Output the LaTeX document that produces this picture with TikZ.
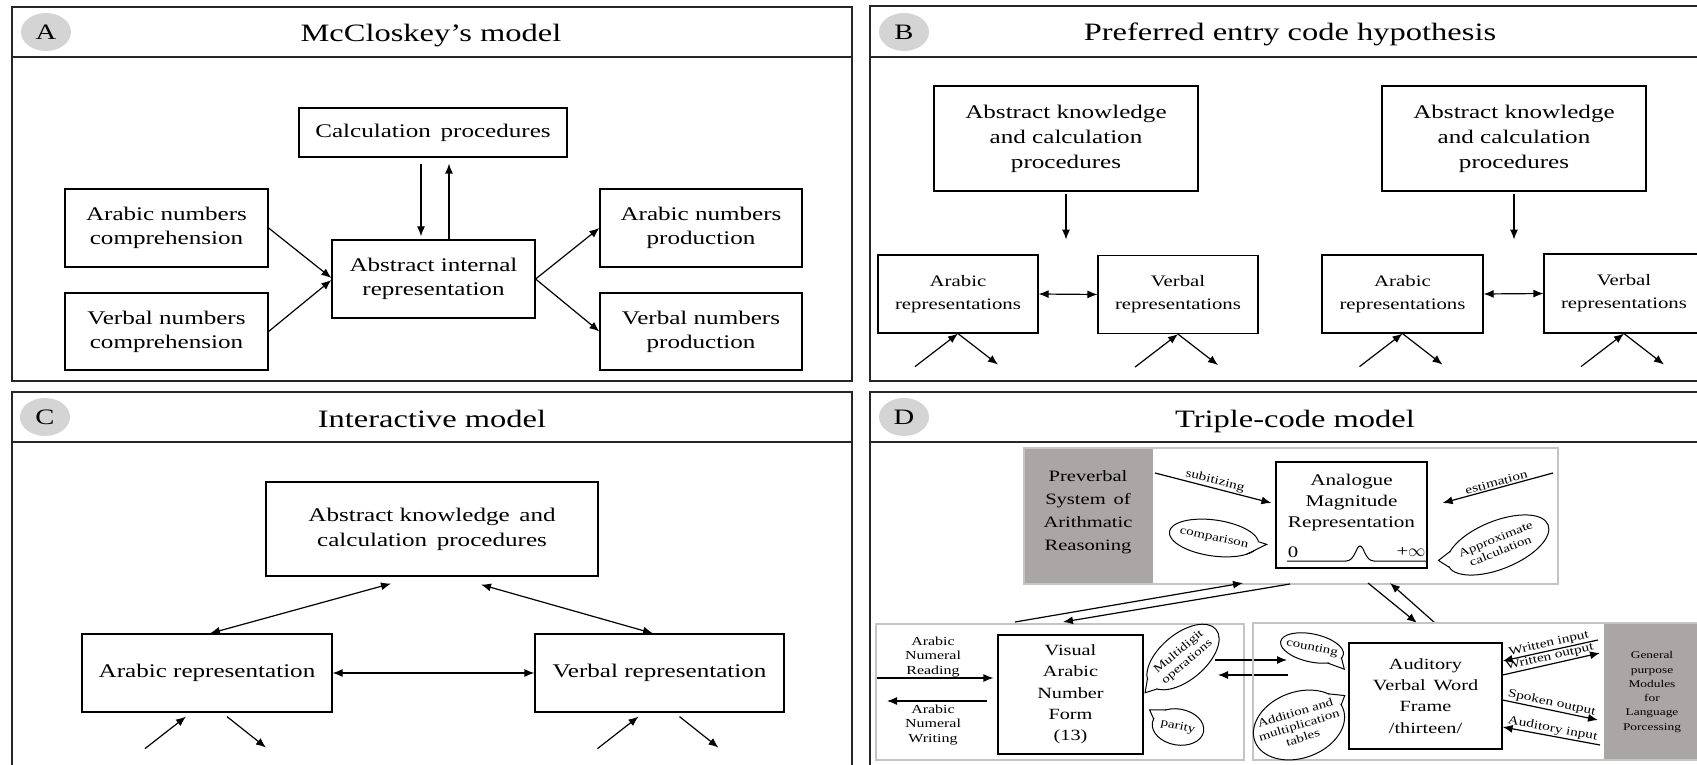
\documentclass[tikz,border=0pt]{standalone}
\usepackage{fontspec}
\setmainfont{Liberation Serif}[FakeStretch=1.3]
\usetikzlibrary{arrows.meta}
\definecolor{circgray}{RGB}{212,212,212}
\definecolor{graybox}{RGB}{170,166,165}
\definecolor{innergray}{RGB}{196,196,196}
\newcommand{\fnTitle}{\fontsize{25}{30}\selectfont}
\newcommand{\fnLetter}{\fontsize{22}{26}\selectfont}
\newcommand{\fnBox}{\fontsize{19.3}{24}\selectfont}
\newcommand{\fnBoxB}{\fontsize{19.3}{25}\selectfont}
\newcommand{\fnSmBox}{\fontsize{16}{23}\selectfont}
\newcommand{\fnMid}{\fontsize{15.8}{23}\selectfont}
\newcommand{\fnMidB}{\fontsize{16.3}{21}\selectfont}
\newcommand{\fnVis}{\fontsize{15.6}{21.3}\selectfont}
\newcommand{\fnLab}{\fontsize{11.5}{13}\selectfont}
\newcommand{\fnArr}{\fontsize{11.8}{13}\selectfont}
\newcommand{\fnLabB}{\fontsize{12.3}{14.5}\selectfont}
\newcommand{\fnGray}{\fontsize{10.3}{14.3}\selectfont}
% bubble: cx, cy, rx, ry, rot, a1, a2, tipx, tipy (local)
\newcommand{\bub}[9]{%
\begin{scope}[shift={(#1,#2)}, rotate=#5]
\draw[bubline, fill=white] (0,0) ellipse [x radius=#3pt, y radius=#4pt];
\fill[white] (#6:#3pt and #4pt) -- (#8,#9) -- (#7:#3pt and #4pt) -- cycle;
\draw[bubline] (#6:#3pt and #4pt) -- (#8,#9) -- (#7:#3pt and #4pt);
\end{scope}}
\begin{document}
\begin{tikzpicture}[x=1pt,y=1pt,
  frame/.style={draw=black!85, line width=1.6pt},
  inner/.style={draw=innergray, line width=1.5pt},
  box/.style={draw, line width=1.2pt, align=center, inner sep=0pt},
  arr/.style={line width=1.2pt, -{Latex[length=10pt,width=8pt]}},
  arrl/.style={line width=1.2pt, {Latex[length=10pt,width=8pt]}-},
  dbl/.style={line width=1.2pt, {Latex[length=10pt,width=8pt]}-{Latex[length=10pt,width=8pt]}},
  bubline/.style={line width=1pt},
  slab/.style={font=\fnArr, sloped, above, inner sep=1.2pt}]
\useasboundingbox (0,0) rectangle (1697,764);
\clip (0,0) rectangle (1697,764);

% ================= Panel A =================
\draw[frame] (12,757) rectangle (852,383);
\draw[frame] (12,707) -- (852,707);
\fill[circgray] (46,732) ellipse [x radius=25pt, y radius=19pt];
\node[font=\fnLetter] (la) at (46,732) {A};
\node[font=\fnTitle, anchor=base] (ta) at (431,722) {McCloskey’s model};
\node[box, font=\fnBox, minimum width=268pt, minimum height=49pt] (calc) at (433,631.5) {Calculation\enspace procedures};
\node[box, font=\fnBox, minimum width=203pt, minimum height=78pt] (arcomp) at (166.5,536) {Arabic numbers\\comprehension};
\node[box, font=\fnBox, minimum width=203pt, minimum height=77pt] (vecomp) at (166.5,432.5) {Verbal numbers\\comprehension};
\node[box, font=\fnBox, minimum width=203pt, minimum height=78pt] (abstr) at (433.5,485) {Abstract internal\\representation};
\node[box, font=\fnBox, minimum width=202pt, minimum height=78pt] (arprod) at (701,536) {Arabic numbers\\production};
\node[box, font=\fnBox, minimum width=202pt, minimum height=77pt] (veprod) at (701,432.5) {Verbal numbers\\production};
\draw[arr] ([xshift=-12pt,yshift=-6pt]calc.south) -- ([xshift=-12.5pt,yshift=3pt]abstr.north);
\draw[arr] ([xshift=15.5pt]abstr.north) -- ([xshift=16pt,yshift=-6pt]calc.south);
\draw[arr] (arcomp.east) -- ([yshift=1pt]abstr.west);
\draw[arr] (vecomp.east) -- ([yshift=-1pt]abstr.west);
\draw[arr] (abstr.east) -- (arprod.west);
\draw[arr] (abstr.east) -- (veprod.west);

% ================= Panel B =================
\draw[frame] (870,758) rectangle (1710,383);
\draw[frame] (870,707) -- (1710,707);
\fill[circgray] (904,732) ellipse [x radius=25pt, y radius=19pt];
\node[font=\fnLetter] (lb) at (904,732) {B};
\node[font=\fnTitle, anchor=base] (tb) at (1290,723) {Preferred entry code hypothesis};
\node[box, font=\fnBoxB, minimum width=264pt, minimum height=105pt] (bk1) at (1066,625.5) {Abstract knowledge\\and calculation\\procedures};
\node[box, font=\fnBoxB, minimum width=264pt, minimum height=105pt] (bk2) at (1514,625.5) {Abstract knowledge\\and calculation\\procedures};
\node[box, font=\fnSmBox, minimum width=160pt, minimum height=78pt] (ar1) at (958,470) {Arabic\\representations};
\node[box, font=\fnSmBox, minimum width=160pt, minimum height=78pt] (ve1) at (1178,469.5) {Verbal\\representations};
\node[box, font=\fnSmBox, minimum width=161pt, minimum height=78pt] (ar2) at (1402.5,470) {Arabic\\representations};
\node[box, font=\fnSmBox, minimum width=160pt, minimum height=79pt] (ve2) at (1624,470.5) {Verbal\\representations};
\draw[arr] ([yshift=-2pt]bk1.south) -- ([yshift=-48pt]bk1.south);
\draw[arr] ([yshift=-2pt]bk2.south) -- ([yshift=-48pt]bk2.south);
\draw[dbl] (ar1.east) -- (ve1.west);
\draw[dbl] (ar2.east) -- (ve2.west);
\foreach \n in {ar1,ve1,ar2,ve2} {
  \draw[arr] ([xshift=-43pt,yshift=-33pt]\n.south) -- (\n.south);
  \draw[arr] (\n.south) -- ([xshift=40pt,yshift=-31pt]\n.south);
}

% ================= Panel C =================
\draw[frame] (12,372) rectangle (852,-20);
\draw[frame] (12,322) -- (852,322);
\fill[circgray] (45,347) ellipse [x radius=25pt, y radius=19pt];
\node[font=\fnLetter] (lc) at (45,347) {C};
\node[font=\fnTitle, anchor=base] (tc) at (432,337) {Interactive model};
\node[box, font=\fnBoxB, minimum width=332pt, minimum height=94pt] (ck) at (432,235) {Abstract knowledge\enspace and\\calculation\enspace procedures};
\node[box, font=\fnBox, minimum width=250pt, minimum height=78pt] (car) at (207,91) {Arabic representation};
\node[box, font=\fnBox, minimum width=249pt, minimum height=78pt] (cve) at (659.5,91) {Verbal representation};
\draw[dbl] ([xshift=3pt]car.north) -- ([xshift=-41pt,yshift=-7pt]ck.south);
\draw[dbl] ([xshift=49pt,yshift=-8pt]ck.south) -- ([xshift=-6.5pt]cve.north);
\draw[dbl] (car.east) -- (cve.west);
\foreach \n in {car,cve} {
  \draw[arr] ([xshift=-62pt,yshift=-36pt]\n.south) -- ([xshift=-21pt,yshift=-4pt]\n.south);
  \draw[arr] ([xshift=20pt,yshift=-4pt]\n.south) -- ([xshift=59pt,yshift=-35pt]\n.south);
}

% ================= Panel D =================
\draw[frame] (870,372) rectangle (1710,-20);
\draw[frame] (870,322) -- (1710,322);
\fill[circgray] (904,347) ellipse [x radius=25pt, y radius=19pt];
\node[font=\fnLetter] (ld) at (904,347) {D};
\node[font=\fnTitle, anchor=base] (td) at (1295,337) {Triple-code model};

% top box
\fill[graybox] (1024,316) rectangle (1153,180);
\draw[inner] (1024,316) rectangle (1558,180);
\node[font=\fnMid, align=center] (prev) at (1088,252) {Preverbal\\System\enspace of\\Arithmatic\\Reasoning};
\node[draw, line width=1.2pt, minimum width=151pt, minimum height=106pt, inner sep=0pt] (anal) at (1351.5,249) {};
\node[font=\fnMidB, align=center] (analt) at (1351.5,261) {Analogue\\Magnitude\\Representation};
\node[font=\fnSmBox] (zero) at (1293,212) {0};
\node[font=\fnSmBox] (inf) at (1411,212) {+$\infty$};
\draw[line width=1pt] (1287,203) -- (1346,203) .. controls (1355,203) and (1356,218) .. (1360,218) .. controls (1364,218) and (1365,203) .. (1374,203) -- (1426,203);
\coordinate (subs) at (1155,291);
\draw[arr] (subs) -- node[slab] (subl) {subitizing} ([xshift=-4pt,yshift=12pt]anal.west);
\coordinate (ests) at (1553,291);
\draw[arrl] ([xshift=15pt,yshift=12pt]anal.east) -- node[slab] (estl) {estimation} (ests);
\bub{1214}{226}{45}{18}{-8}{8}{-40}{53}{1}
\node[font=\fnLab, rotate=-12] (cmpt) at (1214,226) {comparison};
\bub{1498}{219}{54}{24}{22}{150}{185}{-61}{8}
\node[font=\fnLab, rotate=22, align=center] (apxt) at (1498,219) {Approximate\\calculation};

% lower-left box
\draw[inner] (876,140) rectangle (1244,4);
\node[box, font=\fnVis, minimum width=145pt, minimum height=119pt] (vis) at (1070.5,69.5) {Visual\\Arabic\\Number\\Form\\(13)};
\node[font=\fnLabB, align=center] (readl) at (933,107) {Arabic\\Numeral\\Reading};
\coordinate (reads) at (877,86);
\draw[arr] (reads) -- ([xshift=-4pt,yshift=16.5pt]vis.west);
\coordinate (writee) at (887,63);
\draw[arr] ([xshift=-10pt,yshift=-6.5pt]vis.west) -- (writee);
\node[font=\fnLabB, align=center] (writel) at (933,39) {Arabic\\Numeral\\Writing};
\bub{1183}{107}{43}{23}{40}{165}{200}{-52}{-3}
\node[font=\fnLab, rotate=40, align=center] (mdt) at (1183,107) {Multidigit\\operations};
\bub{1178}{37}{26}{18}{-10}{125}{168}{-31}{12}
\node[font=\fnLab, rotate=-12] (part) at (1178,37) {parity};

% arrows between lower boxes
\coordinate (m1) at (1215,104); \coordinate (m2) at (1287,104);
\draw[arr] (m1) -- (m2);
\coordinate (m3) at (1288,89); \coordinate (m4) at (1218,89);
\draw[arr] (m3) -- (m4);
% arrows between top box and lower boxes
\coordinate (t1) at (1015,142); \coordinate (t2) at (1243,181);
\draw[arr] (t1) -- (t2);
\coordinate (t3) at (1290,180); \coordinate (t4) at (1063,142);
\draw[arr] (t3) -- (t4);
\coordinate (t5) at (1368,181); \coordinate (t6) at (1417,141);
\draw[arr] (t5) -- (t6);
\coordinate (t7) at (1435,141); \coordinate (t8) at (1390,181);
\draw[arr] (t7) -- (t8);

% lower-right box
\fill[graybox] (1604,141) rectangle (1710,4);
\draw[inner] (1253,141) rectangle (1710,4);
\node[font=\fnGray, align=center] (gen) at (1652,72) {General\\purpose\\Modules\\for\\Language\\Porcessing};
\node[box, font=\fnVis, minimum width=153pt, minimum height=106pt] (aud) at (1425.5,68) {Auditory\\Verbal\enspace Word\\Frame\\/thirteen/};
\bub{1312}{116}{32}{14}{-12}{-15}{-55}{36}{-14}
\node[font=\fnLab, rotate=-12] (cntt) at (1312,116) {counting};
\bub{1299}{39}{47}{33}{20}{8}{36}{53}{12}
\node[font=\fnLab, rotate=17, align=center] (addt) at (1299,39) {Addition and\\multiplication\\tables};
\coordinate (wi) at (1598,124);
\draw[arrl] ([yshift=35pt]aud.east) -- node[slab] (wil) {Written input} (wi);
\coordinate (wo) at (1600,111);
\draw[arr] ([yshift=21pt]aud.east) -- node[slab] (wol) {Written output} (wo);
\coordinate (so) at (1598,44);
\draw[arr] ([yshift=-4pt]aud.east) -- node[slab] (sol) {Spoken output} (so);
\coordinate (ai) at (1600,19);
\draw[arrl] ([yshift=-31pt]aud.east) -- node[slab] (ail) {Auditory input} (ai);
\end{tikzpicture}
\end{document}
